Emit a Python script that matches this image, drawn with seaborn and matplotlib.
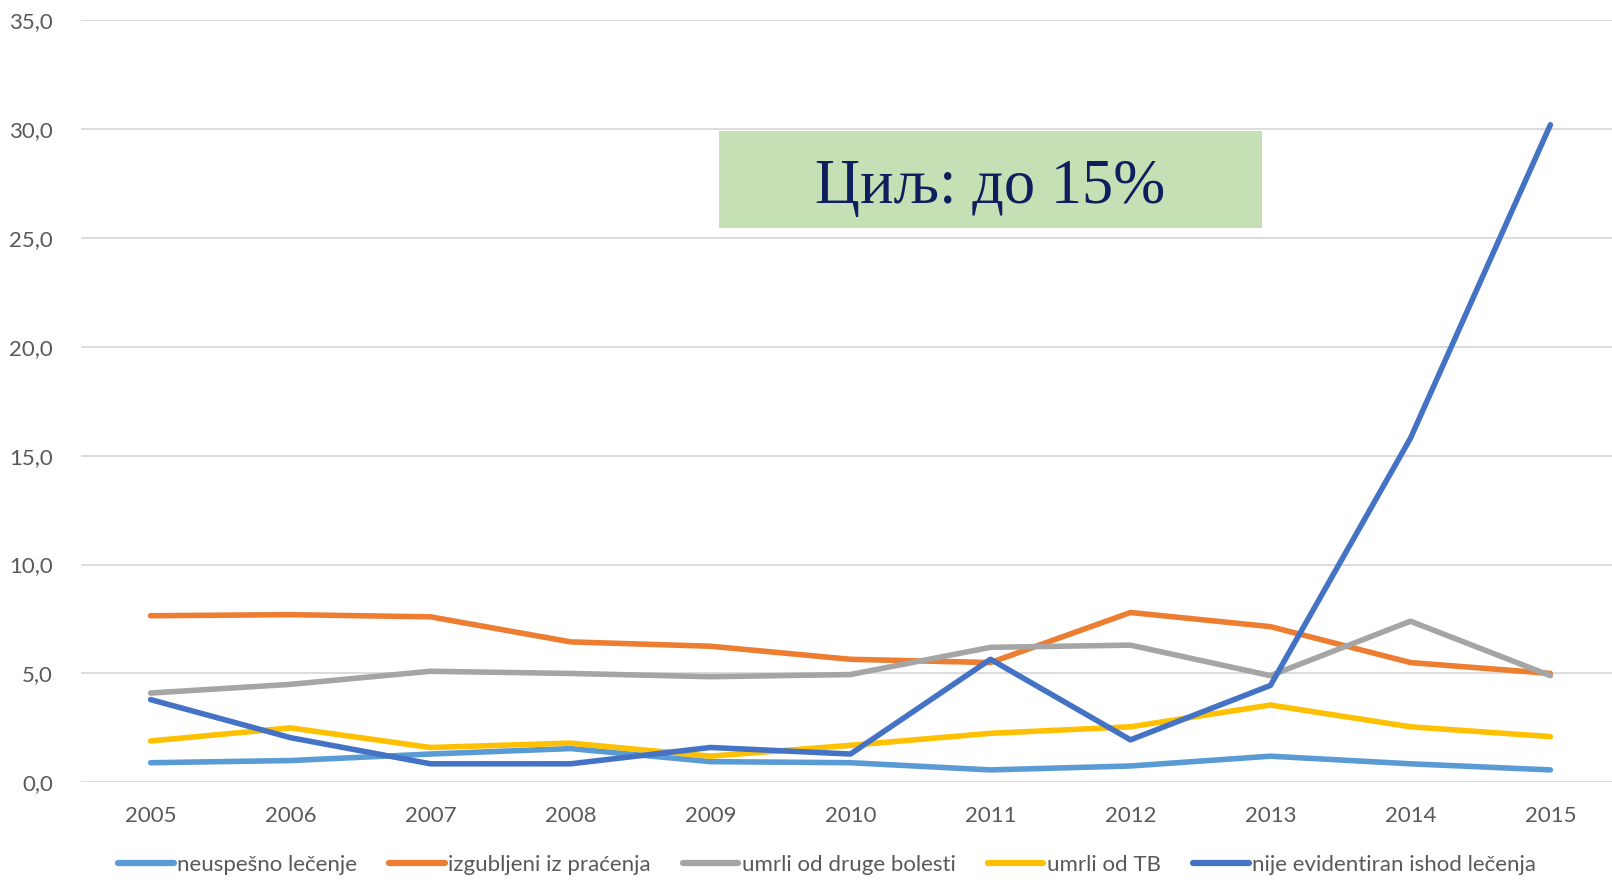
import matplotlib
matplotlib.use("Agg")
import matplotlib.pyplot as plt
from matplotlib.patches import Rectangle
from matplotlib.ticker import FuncFormatter
import seaborn as sns
import pandas as pd

# Data
years = [2005, 2006, 2007, 2008, 2009, 2010, 2011, 2012, 2013, 2014, 2015]
neuspesno = [0.9, 1.0, 1.3, 1.55, 0.95, 0.9, 0.57, 0.75, 1.2, 0.85, 0.57]
izgubljeni = [7.65, 7.7, 7.6, 6.45, 6.25, 5.65, 5.5, 7.8, 7.15, 5.5, 5.0]
druge_bolesti = [4.1, 4.5, 5.1, 5.0, 4.85, 4.95, 6.2, 6.3, 4.9, 7.4, 4.9]
umrli_tb = [1.9, 2.5, 1.6, 1.8, 1.2, 1.7, 2.25, 2.55, 3.55, 2.55, 2.1]
nije_evid = [3.8, 2.05, 0.85, 0.85, 1.6, 1.3, 5.65, 1.95, 4.45, 15.8, 30.2]

series_names = ["neuspešno lečenje", "izgubljeni iz praćenja", "umrli od druge bolesti",
                "umrli od TB", "nije evidentiran ishod lečenja"]
series_values = [neuspesno, izgubljeni, druge_bolesti, umrli_tb, nije_evid]
colors = ["#5B9BD5", "#ED7D31", "#A5A5A5", "#FFC000", "#4472C4"]
y_ticks = [0, 5, 10, 15, 20, 25, 30, 35]
target_text = "Циљ: до 15%"

rows = []
for name, vals in zip(series_names, series_values):
    for yr, v in zip(years, vals):
        rows.append({"year": yr, "value": v, "series": name})
df = pd.DataFrame(rows)

sns.set_theme(style="white")
plt.rcParams["font.family"] = ["Lato", "DejaVu Sans"]

fig = plt.figure(figsize=(16.12, 8.8), dpi=100)
ax = fig.add_axes([0.05, 0.111, 0.95, 0.866])

sns.lineplot(data=df, x="year", y="value", hue="series", hue_order=series_names,
             palette=colors, linewidth=4.0, ax=ax, legend=False, zorder=3)
for line in ax.get_lines():
    line.set_solid_capstyle("round")
    line.set_solid_joinstyle("round")

ax.set_xlim(2004.5, 2015.44)
ax.set_ylim(0, 35)
ax.set_yticks(y_ticks)
ax.set_xticks(years)
ax.yaxis.set_major_formatter(FuncFormatter(lambda v, p: f"{v:.1f}".replace(".", ",")))
ax.grid(axis="y", color="#D9D9D9", linewidth=1.3, zorder=0)
ax.set_axisbelow(True)
for s in ax.spines.values():
    s.set_visible(False)
ax.tick_params(axis="both", length=0, labelsize=16, labelcolor="#595959")
ax.tick_params(axis="x", pad=17)
ax.tick_params(axis="y", pad=20)
ax.set_xlabel("")
ax.set_ylabel("")

# target box
ax.add_patch(Rectangle((2009.06, 25.45), 3.88, 4.45, facecolor="#C5E0B4",
                       edgecolor="none", zorder=2))
ax.text(2011.0, 27.3, target_text, ha="center", va="center", fontsize=45,
        color="#0D1F5C", family=["Liberation Serif", "DejaVu Serif"], zorder=4)

handles = [plt.Line2D([], [], color=c, linewidth=4.5, solid_capstyle="round")
           for c in colors]
fig.legend(handles, series_names, loc="center", bbox_to_anchor=(0.513, 0.017),
           ncol=5, frameon=False, fontsize=16, handlelength=2.5, handletextpad=0.15,
           columnspacing=1.45, labelcolor="#595959")

fig.savefig("out.png", dpi=100)
